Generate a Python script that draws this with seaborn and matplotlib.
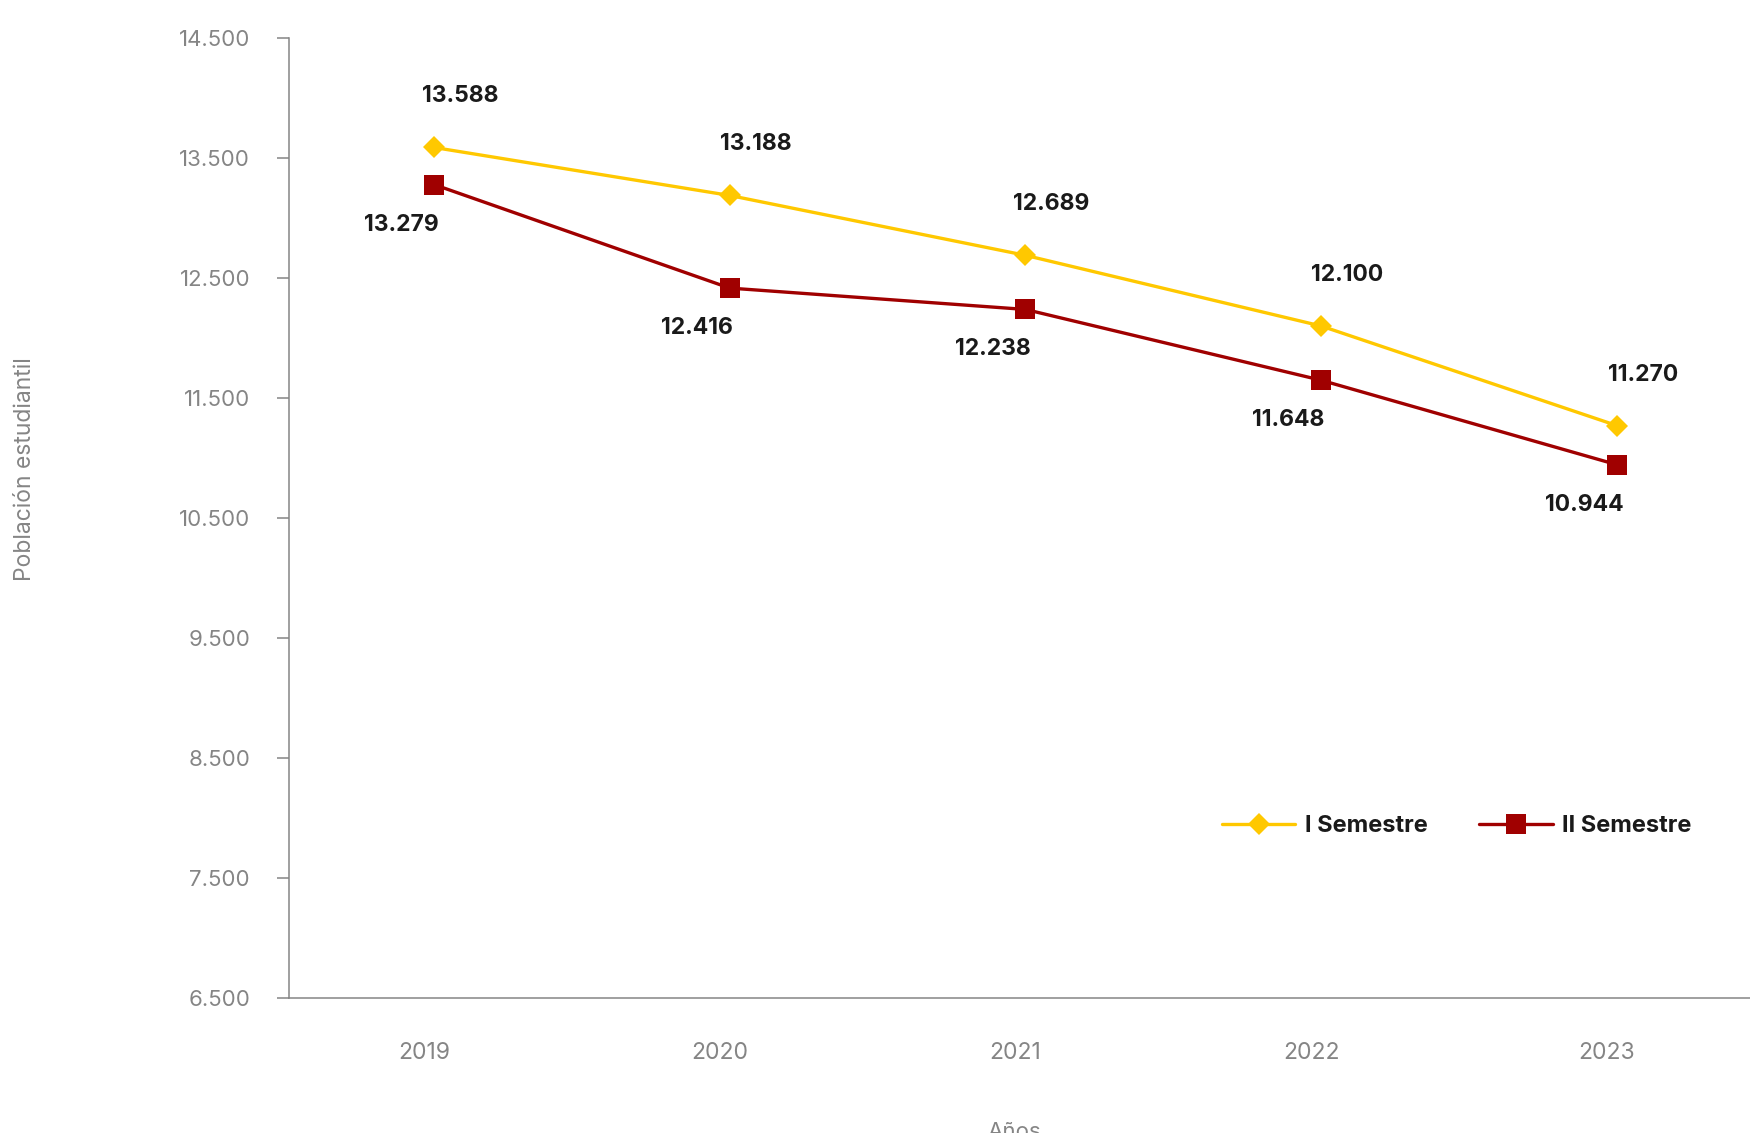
import matplotlib
matplotlib.use("Agg")
import matplotlib.pyplot as plt
import matplotlib.transforms as mtransforms
import seaborn as sns
import pandas as pd

years = ["2019", "2020", "2021", "2022", "2023"]
sem1 = [13588, 13188, 12689, 12100, 11270]
sem2 = [13279, 12416, 12238, 11648, 10944]
series_names = ["I Semestre", "II Semestre"]
y_ticks = [6500, 7500, 8500, 9500, 10500, 11500, 12500, 13500, 14500]

df = pd.DataFrame({
    "Año": years * 2,
    "Valor": sem1 + sem2,
    "Serie": [series_names[0]] * len(years) + [series_names[1]] * len(years),
})

sns.set_style("white")
plt.rcParams["font.family"] = ["Inter", "DejaVu Sans"]

GRAY = "#858585"
YELLOW = "#FFC800"
RED = "#A00000"

fig = plt.figure(figsize=(17.5, 11.33), dpi=100)
ax = fig.add_axes([289 / 1750, 1 - 998 / 1133, 1 - 289 / 1750, (998 - 38) / 1133])

sns.lineplot(data=df, x="Año", y="Valor", hue="Serie", style="Serie",
             markers={"I Semestre": "D", "II Semestre": "s"}, dashes=False,
             palette={"I Semestre": YELLOW, "II Semestre": RED},
             linewidth=2.4, markersize=14, markeredgewidth=0, ax=ax)

for line in ax.lines:
    if line.get_marker() == "D":
        line.set_markersize(11)

ax.set_xlim(-0.49, 4.45)
ax.set_ylim(6500, 14500)
ax.set_yticks(y_ticks)
ax.set_yticklabels([f"{v:,}".replace(",", ".") for v in y_ticks])

for s in ["top", "right"]:
    ax.spines[s].set_visible(False)
for s in ["left", "bottom"]:
    ax.spines[s].set_color(GRAY)
    ax.spines[s].set_linewidth(1.1)

ax.tick_params(axis="y", direction="out", length=9, width=1.1, color=GRAY,
               labelcolor=GRAY, labelsize=16, pad=19, left=True)
ax.tick_params(axis="x", length=0, labelcolor=GRAY, labelsize=16.5, pad=32)

off = mtransforms.ScaledTranslation(-10 / 100, 0, fig.dpi_scale_trans)
for lab in ax.get_xticklabels():
    lab.set_transform(lab.get_transform() + off)

ax.set_xlabel("")
ax.set_ylabel("Población estudiantil", color=GRAY, fontsize=16.5)
ax.yaxis.set_label_coords(-0.173, 0.551)

fig.text(1014 / 1750, 1 - 1122 / 1133, "Años", color=GRAY, fontsize=16,
         ha="center", va="top")

def fmt(v):
    return f"{v:,}".replace(",", ".")

for i, v in enumerate(sem1):
    ax.annotate(fmt(v), (i, v), xytext=(26, 51), textcoords="offset pixels",
                ha="center", va="center", fontsize=16.5, fontweight="bold",
                color="#1a1a1a")
for i, v in enumerate(sem2):
    ax.annotate(fmt(v), (i, v), xytext=(-33, -40), textcoords="offset pixels",
                ha="center", va="center", fontsize=16.5, fontweight="bold",
                color="#1a1a1a")

handles, labels = ax.get_legend_handles_labels()
leg = ax.legend(handles, labels, loc="center left",
                bbox_to_anchor=(1222 / 1750, 1 - 826 / 1133),
                bbox_transform=fig.transFigure, ncol=2, frameon=False,
                borderpad=0, borderaxespad=0, handlelength=3.1,
                handletextpad=0.4, columnspacing=2.2,
                prop={"size": 17, "weight": "bold"})
for t in leg.get_texts():
    t.set_color("#1a1a1a")

fig.savefig("out.png", dpi=100)
